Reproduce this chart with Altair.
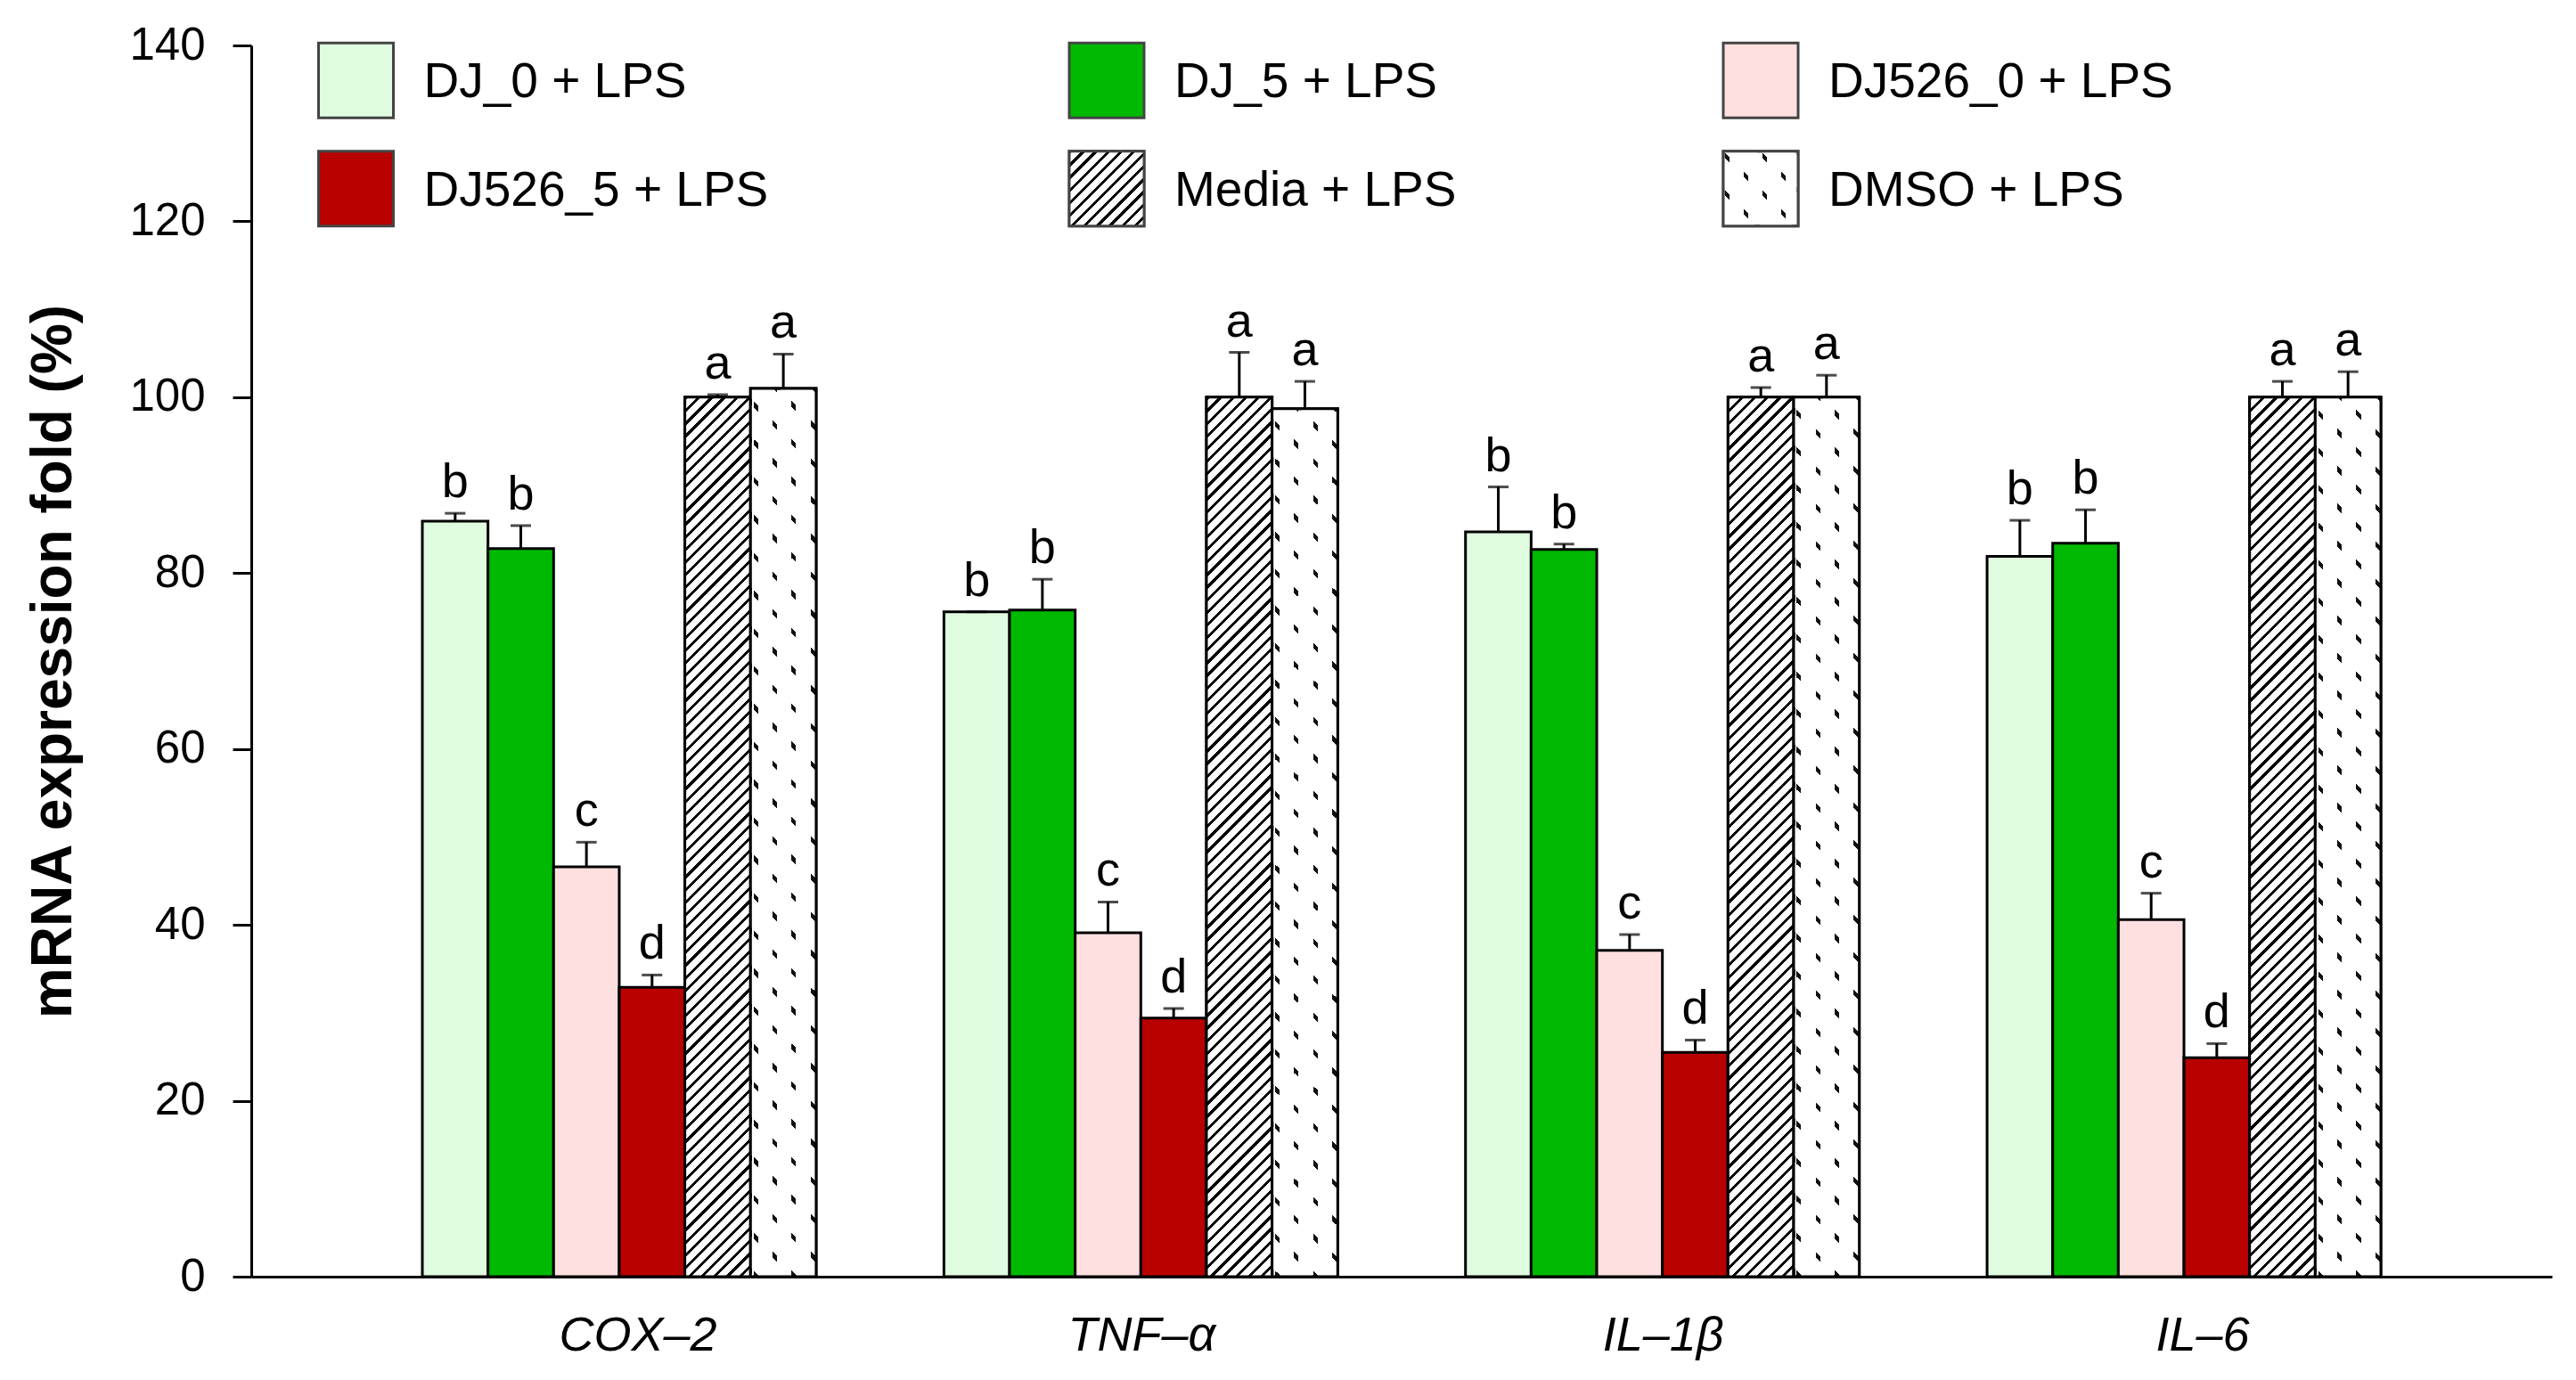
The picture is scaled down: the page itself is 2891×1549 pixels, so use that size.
import math
import altair as alt
import pandas as pd

# ---------------- data ----------------
genes = ["COX–2", "TNF–α", "IL–1β", "IL–6"]
treatments = ["DJ_0 + LPS", "DJ_5 + LPS", "DJ526_0 + LPS",
              "DJ526_5 + LPS", "Media + LPS", "DMSO + LPS"]
colors = ["#E0FCE0", "#00B900", "#FFE0E0", "#B80000", "#FFFFFF", "#FFFFFF"]

dj0_mean = [85.9, 75.6, 84.7, 81.9]
dj5_mean = [82.8, 75.8, 82.7, 83.4]
dj526_0_mean = [46.6, 39.1, 37.1, 40.6]
dj526_5_mean = [32.9, 29.4, 25.5, 24.9]
media_mean = [100.0, 100.0, 100.0, 100.0]
dmso_mean = [101.0, 98.7, 100.0, 100.0]

dj0_err = [0.9, 0.0, 5.1, 4.1]
dj5_err = [2.6, 3.5, 0.6, 3.8]
dj526_0_err = [2.8, 3.5, 1.8, 3.0]
dj526_5_err = [1.4, 1.1, 1.4, 1.6]
media_err = [0.3, 5.1, 1.1, 1.8]
dmso_err = [3.9, 3.1, 2.5, 2.9]

letters = ["b", "b", "c", "d", "a", "a"]

legend_col = [0, 1, 2, 0, 1, 2]
legend_row = [0, 0, 0, 1, 1, 1]

means = [dj0_mean, dj5_mean, dj526_0_mean, dj526_5_mean, media_mean, dmso_mean]
errs = [dj0_err, dj5_err, dj526_0_err, dj526_5_err, media_err, dmso_err]

rows = []
for gi, g in enumerate(genes):
    for ti, t in enumerate(treatments):
        v = means[ti][gi]
        e = errs[ti][gi]
        rows.append(dict(gene=g, treatment=t, value=v, err=e,
                         upper=v + e, letter=letters[ti]))
df = pd.DataFrame(rows)

leg_df = pd.DataFrame(dict(treatment=treatments, col=legend_col, row=legend_row))

# ---------------- layout / style ----------------
FONT = "Liberation Sans"
PLOT_W, PLOT_H = 2582, 1382
Y_MAX = 140
P_IN, P_OUT = 0.245, 0.328
STEP = PLOT_W / (len(genes) - P_IN + 2 * P_OUT)
BAR_W = STEP * (1 - P_IN) / len(treatments)
PXU = PLOT_H / Y_MAX
H100 = 100 * PXU
SQ = 84
CLEAR = "rgba(255,255,255,0)"


def stripe_gradient(w, h, ux, uy, bands, bg, fg):
    n = math.hypot(ux, uy)
    ux, uy = ux / n, uy / n
    corners = [(0, 0), (w, 0), (0, h), (w, h)]
    proj = [cx * ux + cy * uy for cx, cy in corners]
    smin, smax = min(proj), max(proj)
    L = smax - smin
    cmin = corners[proj.index(smin)]
    lam = L / (w * w * ux * ux + h * h * uy * uy)
    x1, y1 = cmin[0] / w, cmin[1] / h
    x2, y2 = x1 + lam * w * ux, y1 + lam * h * uy
    stops = [alt.GradientStop(color=bg, offset=0)]
    last = 0.0
    for a, b in sorted(bands):
        a, b = max(a, smin), min(b, smax)
        if b <= a:
            continue
        oa = max(round((a - smin) / L, 5), last)
        ob = max(round((b - smin) / L, 5), oa)
        stops += [alt.GradientStop(color=bg, offset=oa),
                  alt.GradientStop(color=fg, offset=oa),
                  alt.GradientStop(color=fg, offset=ob),
                  alt.GradientStop(color=bg, offset=ob)]
        last = ob
    stops.append(alt.GradientStop(color=bg, offset=1))
    return alt.LinearGradient(gradient="linear", stops=stops,
                              x1=x1, y1=y1, x2=x2, y2=y2)


def hatch(w, h, period=10.0, thick=3.0):
    lo = -5 * period
    hi = (w + h) / math.sqrt(2) + 5 * period
    bands = []
    k = math.floor(lo / period)
    while k * period < hi:
        bands.append((k * period, k * period + thick))
        k += 1
    return stripe_gradient(w, h, 1, 1, bands, "#FFFFFF", "#000000")


def dot_columns(w, h, fracs, half=2.6):
    bands = [(f * w - half, f * w + half) for f in fracs]
    return stripe_gradient(w, h, 1, 0, bands, CLEAR, "#111111")


def dot_mask(w, h, sx, period=42.0, half=3.2, phase=12.0):
    m = (period / 2) / sx
    norm = math.hypot(m, 1)
    bands = []
    j = -int((m * w + h) / period) - 3
    while j * period < h + m * w + 3 * period:
        c = (j * period + phase) / norm
        bands.append((c - half / norm, c + half / norm))
        j += 1
    return stripe_gradient(w, h, -m, 1, bands, "#FFFFFF", CLEAR)


BAR_FR = [0.08, 0.37, 0.66, 0.95]
SQ_FR = [0.05, 0.30, 0.55, 0.80]
HATCH_BAR = hatch(BAR_W, H100)
COLS_BAR = dot_columns(BAR_W, H100, BAR_FR)
MASK_BAR = dot_mask(BAR_W, H100, 0.29 * BAR_W, phase=14.0)
HATCH_SQ = hatch(SQ, SQ)
COLS_SQ = dot_columns(SQ, SQ, SQ_FR)
MASK_SQ = dot_mask(SQ, SQ, 0.25 * SQ, phase=3.0)

X_AXIS = alt.Axis(
    title=None, ticks=False, grid=False, domainColor="black", domainWidth=3,
    labelFont=FONT, labelFontSize=54, labelFontStyle="italic",
    labelColor="black", labelPadding=39, labelAngle=0,
    labelOffset={"condition": {"test": "datum.value === 'COX–2' || datum.value === 'IL–6'",
                               "value": 21}, "value": 1},
)
Y_AXIS = alt.Axis(
    values=list(range(0, 141, 20)), grid=False, domainColor="black",
    domainWidth=3, tickColor="black", tickWidth=3, tickSize=21,
    labelFont=FONT, labelFontSize=51, labelColor="black", labelPadding=31,
    title="mRNA expression fold (%)", titleFont=FONT, titleFontSize=64,
    titleFontWeight="bold", titleColor="black", titleAngle=270,
    titleX=-203, titleY=PLOT_H / 2, titleBaseline="alphabetic", titleAlign="center",
)

x_enc = alt.X("gene:N", sort=genes,
              scale=alt.Scale(domain=genes, paddingInner=P_IN, paddingOuter=P_OUT),
              axis=X_AXIS)
xo_enc = alt.XOffset("treatment:N", sort=treatments,
                     scale=alt.Scale(domain=treatments, paddingInner=0, paddingOuter=0))
y_scale = alt.Scale(domain=[0, Y_MAX], nice=False, zero=True)
fill_enc = alt.Fill("treatment:N", scale=alt.Scale(domain=treatments, range=colors),
                    legend=None)

base = alt.Chart(df)

bars = base.mark_bar(stroke="black", strokeWidth=3).encode(
    x=x_enc, xOffset=xo_enc,
    y=alt.Y("value:Q", scale=y_scale, axis=Y_AXIS),
    fill=fill_enc,
)

media_f = alt.datum.treatment == "Media + LPS"
dmso_f = alt.datum.treatment == "DMSO + LPS"

hatch_bars = base.transform_filter(media_f).mark_bar(
    fill=HATCH_BAR, stroke="black", strokeWidth=3).encode(
    x=x_enc, xOffset=xo_enc, y=alt.Y("value:Q", scale=y_scale, axis=Y_AXIS))

dmso_cols = base.transform_filter(dmso_f).mark_bar(
    fill=COLS_BAR, strokeWidth=0).encode(
    x=x_enc, xOffset=xo_enc, y=alt.Y("value:Q", scale=y_scale, axis=Y_AXIS))

dmso_mask = base.transform_filter(dmso_f).mark_bar(
    fill=MASK_BAR, stroke="black", strokeWidth=3).encode(
    x=x_enc, xOffset=xo_enc, y=alt.Y("value:Q", scale=y_scale, axis=Y_AXIS))

err_rule = base.mark_rule(color="black", strokeWidth=3).encode(
    x=x_enc, xOffset=xo_enc,
    y=alt.Y("value:Q", scale=y_scale, axis=Y_AXIS), y2="upper:Q")

err_cap = base.mark_tick(color="black", thickness=3, size=23).encode(
    x=x_enc, xOffset=xo_enc, y=alt.Y("upper:Q", scale=y_scale, axis=Y_AXIS))

sig = base.mark_text(font=FONT, fontSize=54, color="black", baseline="alphabetic",
                     dy=-18).encode(
    x=x_enc, xOffset=xo_enc, y=alt.Y("upper:Q", scale=y_scale, axis=Y_AXIS),
    text="letter:N")

bar_group = alt.layer(bars, hatch_bars, dmso_cols, dmso_mask, err_rule, err_cap, sig)

# ---------------- legend (drawn inside the plot) ----------------
lx = alt.X("col:Q", scale=alt.Scale(domain=[0, 1, 2], range=[117.5, 960, 1694],
                                     nice=False, zero=False), axis=None)
ly = alt.Y("row:Q", scale=alt.Scale(domain=[0, 1], range=[39.3, 160.7],
                                     nice=False, zero=False), axis=None)
lbase = alt.Chart(leg_df)

leg_sq = lbase.mark_square(size=SQ * SQ, stroke="#444444", strokeWidth=3,
                           opacity=1).encode(x=lx, y=ly, fill=fill_enc)
leg_hatch = lbase.transform_filter(media_f).mark_square(
    size=SQ * SQ, fill=HATCH_SQ, stroke="#444444", strokeWidth=3, opacity=1).encode(x=lx, y=ly)
leg_cols = lbase.transform_filter(dmso_f).mark_square(
    size=SQ * SQ, fill=COLS_SQ, strokeWidth=0, opacity=1).encode(x=lx, y=ly)
leg_mask = lbase.transform_filter(dmso_f).mark_square(
    size=SQ * SQ, fill=MASK_SQ, stroke="#444444", strokeWidth=3, opacity=1).encode(x=lx, y=ly)
leg_text = lbase.mark_text(align="left", baseline="alphabetic", dx=76, dy=19,
                           font=FONT, fontSize=55, color="black").encode(
    x=lx, y=ly, text="treatment:N")

legend_group = alt.layer(leg_sq, leg_hatch, leg_cols, leg_mask, leg_text)

chart = alt.layer(bar_group, legend_group).resolve_scale(
    x="independent", y="independent"
).properties(
    width=PLOT_W, height=PLOT_H,
    autosize=alt.AutoSizeParams(type="none"),
    padding={"left": 274, "top": 43, "right": 10, "bottom": 108},
    background="white",
).configure_view(strokeWidth=0)

chart.save("out.html", embed_options={"renderer": "svg", "actions": False})
